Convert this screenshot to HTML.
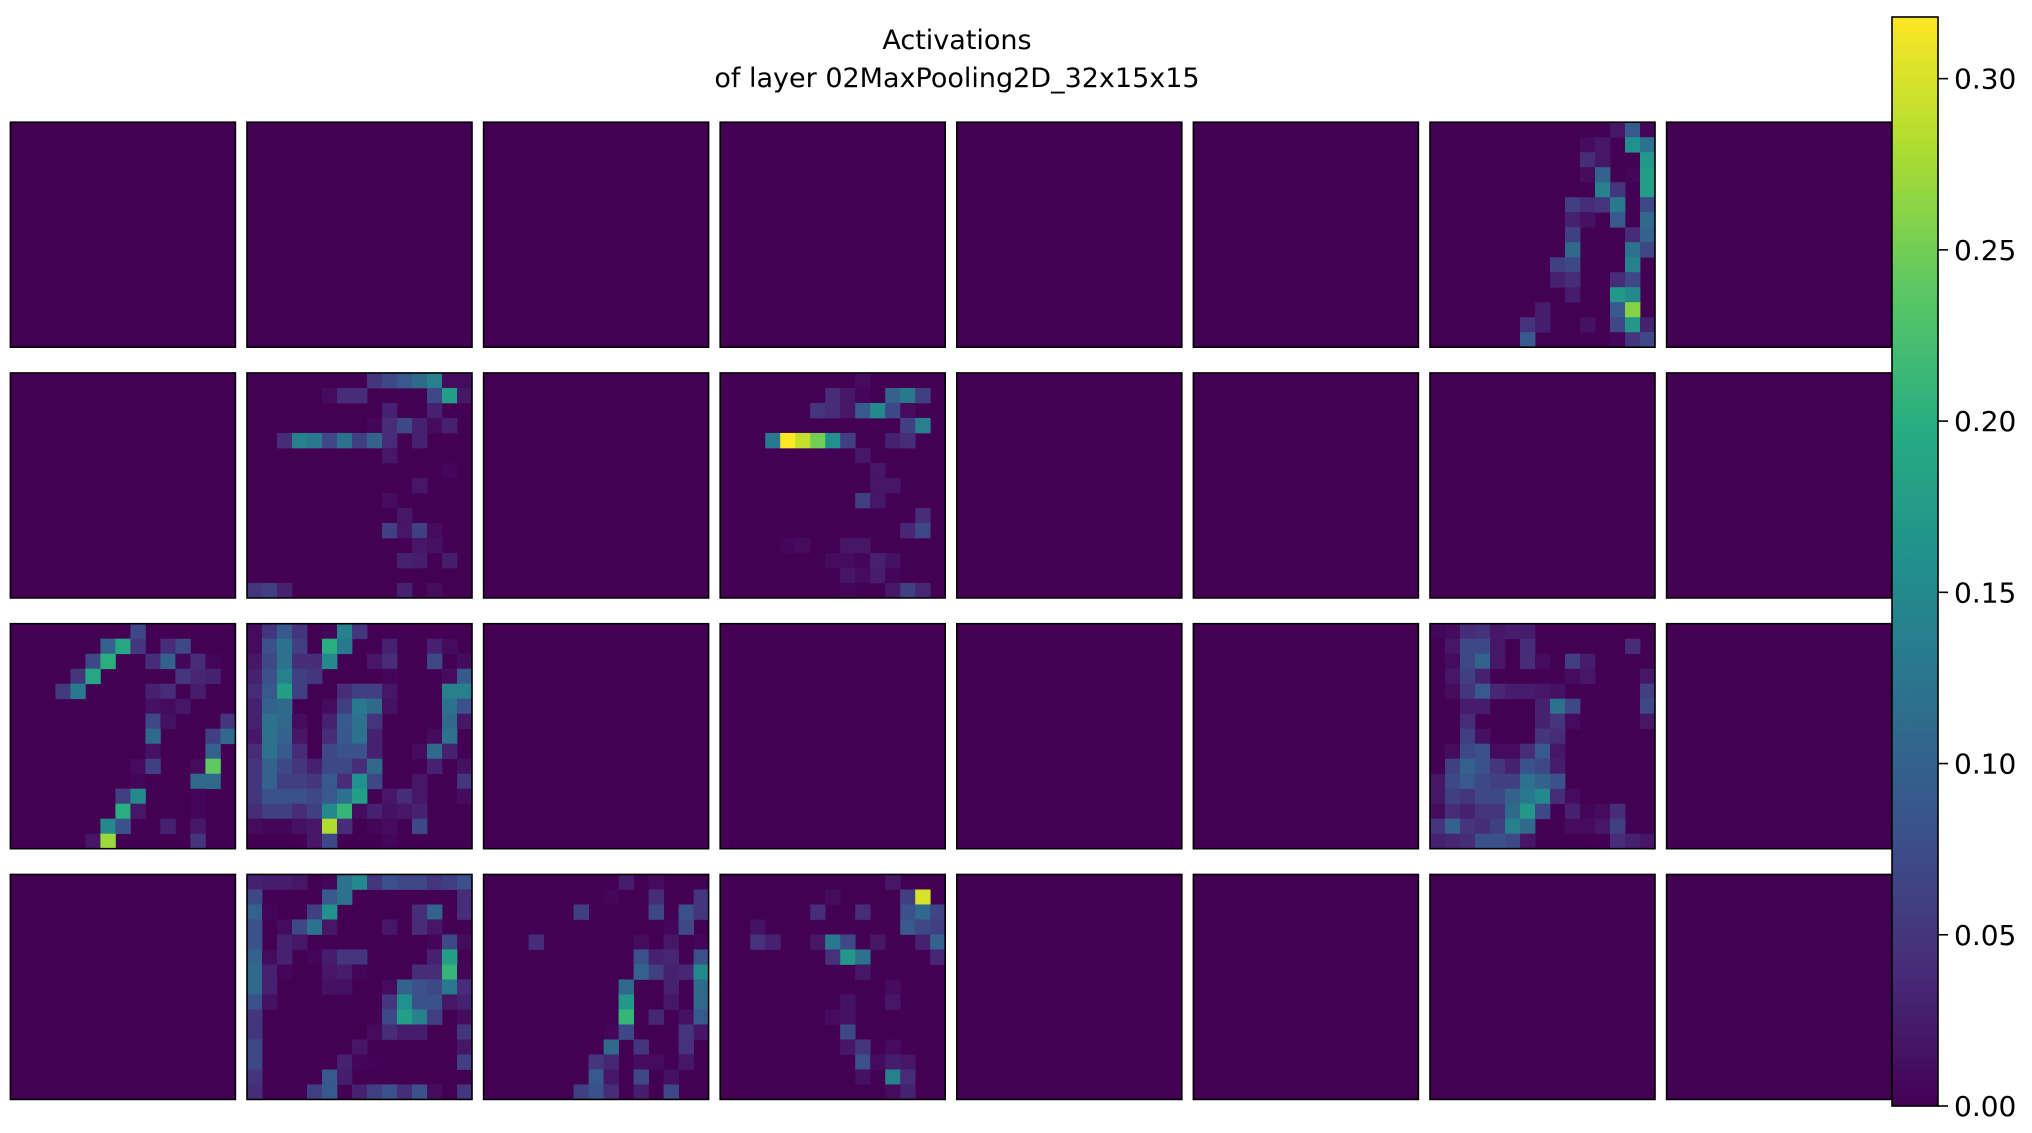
<!DOCTYPE html>
<html><head><meta charset="utf-8"><style>
html,body{margin:0;padding:0;background:#fff;}
svg{display:block;font-family:"DejaVu Sans","Liberation Sans",sans-serif;}
</style></head><body>
<svg id="fig" width="2032" height="1133" viewBox="0 0 2032 1133" xmlns="http://www.w3.org/2000/svg">
<text x="957" y="49" font-size="27" text-anchor="middle" fill="#000">Activations</text>
<text x="957" y="87" font-size="27" text-anchor="middle" fill="#000">of layer 02MaxPooling2D_32x15x15</text>
<g id="panels"></g>
<g id="cbar"></g>
</svg>
<script>
// color scale
const vmin = 0, vmax = 0.318;
const cbarTicks = [0, 0.05, 0.10, 0.15, 0.20, 0.25, 0.30];
const cbarTickLabels = ["0.00","0.05","0.10","0.15","0.20","0.25","0.30"];
// sparse panels: [row, col, value]
const act_r0c6 = [[0,12,0.02],[0,13,0.09],[0,14,0.005],[1,10,0.01],[1,11,0.02],[1,13,0.16],[1,14,0.12],[2,10,0.04],[2,11,0.02],[2,14,0.17],[3,10,0.01],[3,11,0.1],[3,13,0.005],[3,14,0.18],[4,11,0.14],[4,12,0.05],[4,14,0.18],[5,9,0.06],[5,10,0.04],[5,11,0.05],[5,12,0.13],[5,14,0.07],[6,9,0.03],[6,10,0.015],[6,12,0.09],[6,14,0.11],[7,9,0.06],[7,13,0.04],[7,14,0.1],[8,9,0.11],[8,13,0.12],[8,14,0.07],[9,8,0.06],[9,9,0.07],[9,13,0.14],[10,8,0.03],[10,9,0.04],[10,12,0.04],[10,13,0.07],[11,9,0.025],[11,12,0.17],[11,13,0.15],[12,7,0.025],[12,12,0.09],[12,13,0.26],[13,6,0.045],[13,7,0.025],[13,10,0.015],[13,12,0.07],[13,13,0.17],[13,14,0.03],[14,6,0.09],[14,12,0.005],[14,13,0.05],[14,14,0.07]];
const act_r1c1 = [[0,8,0.05],[0,9,0.07],[0,10,0.09],[0,11,0.11],[0,12,0.14],[0,13,0.01],[0,14,0.01],[1,5,0.01],[1,6,0.04],[1,7,0.04],[1,12,0.07],[1,13,0.18],[1,14,0.02],[2,9,0.03],[2,12,0.03],[3,8,0.005],[3,9,0.04],[3,10,0.07],[3,11,0.03],[3,12,0.01],[3,13,0.03],[4,2,0.04],[4,3,0.14],[4,4,0.13],[4,5,0.07],[4,6,0.12],[4,7,0.06],[4,8,0.1],[4,9,0.04],[4,11,0.03],[5,9,0.02],[6,13,0.005],[7,11,0.02],[8,9,0.01],[9,10,0.02],[10,9,0.06],[10,10,0.02],[10,11,0.06],[10,12,0.01],[11,11,0.02],[11,12,0.015],[12,10,0.03],[12,11,0.025],[12,13,0.025],[14,0,0.05],[14,1,0.06],[14,2,0.03],[14,10,0.03],[14,12,0.01]];
const act_r1c3 = [[0,9,0.01],[1,7,0.04],[1,8,0.02],[1,9,0.005],[1,11,0.1],[1,12,0.13],[1,13,0.06],[2,6,0.05],[2,7,0.04],[2,8,0.02],[2,9,0.09],[2,10,0.15],[2,11,0.07],[2,12,0.01],[3,12,0.06],[3,13,0.14],[4,3,0.13],[4,4,0.318],[4,5,0.29],[4,6,0.25],[4,7,0.16],[4,8,0.06],[4,11,0.03],[4,12,0.04],[5,9,0.02],[6,10,0.02],[7,10,0.02],[7,11,0.02],[8,9,0.06],[8,10,0.02],[9,13,0.04],[10,12,0.035],[10,13,0.07],[11,4,0.005],[11,5,0.01],[11,8,0.02],[11,9,0.02],[12,7,0.01],[12,8,0.01],[12,9,0.005],[12,10,0.03],[12,11,0.015],[13,8,0.02],[13,9,0.01],[13,10,0.025],[13,11,0.005],[14,8,0.005],[14,11,0.02],[14,12,0.06],[14,13,0.035]];
const act_r2c0 = [[0,8,0.07],[1,6,0.1],[1,7,0.19],[1,8,0.05],[1,10,0.04],[1,11,0.07],[2,5,0.07],[2,6,0.2],[2,9,0.04],[2,10,0.1],[2,11,0.005],[2,12,0.04],[2,13,0.005],[3,4,0.05],[3,5,0.19],[3,11,0.05],[3,12,0.035],[3,13,0.03],[4,3,0.055],[4,4,0.13],[4,9,0.03],[4,10,0.04],[4,12,0.025],[5,9,0.015],[5,10,0.01],[5,11,0.02],[6,9,0.07],[6,10,0.015],[6,14,0.05],[7,9,0.11],[7,13,0.06],[7,14,0.11],[8,9,0.015],[8,13,0.1],[9,8,0.01],[9,9,0.06],[9,12,0.01],[9,13,0.24],[10,8,0.005],[10,12,0.11],[10,13,0.11],[11,7,0.06],[11,8,0.15],[11,12,0.005],[12,7,0.2],[12,8,0.02],[12,12,0.005],[13,6,0.15],[13,7,0.08],[13,10,0.03],[13,12,0.02],[14,5,0.02],[14,6,0.27],[14,12,0.05]];
const act_r3c2 = [[0,9,0.025],[0,11,0.01],[1,8,0.005],[1,11,0.04],[1,14,0.05],[2,6,0.06],[2,11,0.07],[2,13,0.08],[2,14,0.05],[3,12,0.005],[3,13,0.07],[4,3,0.04],[4,10,0.01],[4,12,0.02],[4,14,0.005],[5,10,0.08],[5,11,0.03],[5,12,0.035],[5,14,0.08],[6,10,0.1],[6,11,0.06],[6,12,0.03],[6,13,0.035],[6,14,0.15],[7,9,0.11],[7,12,0.03],[7,14,0.11],[8,9,0.17],[8,12,0.02],[8,14,0.11],[9,9,0.21],[9,11,0.035],[9,13,0.015],[9,14,0.09],[10,8,0.005],[10,9,0.07],[10,13,0.05],[10,14,0.02],[11,8,0.11],[11,10,0.05],[11,13,0.045],[12,7,0.05],[12,8,0.035],[12,10,0.01],[12,11,0.01],[12,13,0.02],[13,7,0.09],[13,8,0.02],[13,10,0.07],[13,12,0.015],[14,6,0.06],[14,7,0.08],[14,8,0.04],[14,10,0.025],[14,12,0.07]];
const act_r3c3 = [[0,11,0.02],[1,7,0.01],[1,12,0.06],[1,13,0.3],[2,6,0.04],[2,9,0.04],[2,12,0.08],[2,13,0.11],[2,14,0.065],[3,2,0.015],[3,12,0.09],[3,13,0.07],[3,14,0.06],[4,2,0.045],[4,3,0.03],[4,6,0.02],[4,7,0.13],[4,8,0.07],[4,10,0.02],[4,13,0.03],[4,14,0.1],[5,7,0.045],[5,8,0.17],[5,9,0.12],[5,14,0.035],[6,9,0.02],[7,11,0.01],[8,8,0.015],[8,11,0.02],[9,7,0.01],[9,8,0.015],[10,8,0.07],[11,8,0.02],[11,9,0.05],[11,11,0.01],[12,9,0.08],[12,10,0.01],[12,11,0.025],[12,12,0.02],[13,9,0.015],[13,11,0.14],[13,12,0.04],[14,11,0.01],[14,12,0.03]];
// dense panels: 15 rows x 15 cols
const act_r2c1 = [
[0.01,0.05,0.09,0.05,0,0.005,0.14,0.05,0,0,0,0,0,0,0],
[0.01,0.08,0.12,0.06,0,0.2,0.13,0,0,0.03,0,0,0.03,0.01,0],
[0.02,0.07,0.12,0.04,0.04,0.15,0,0,0.02,0.04,0,0,0.07,0,0.01],
[0.03,0.08,0.14,0.06,0.05,0,0,0,0,0.005,0,0,0,0.01,0.09],
[0.04,0.09,0.18,0.06,0,0,0.04,0.06,0.06,0.02,0,0,0,0.14,0.14],
[0.03,0.1,0.11,0,0,0.01,0.06,0.13,0.11,0.015,0,0,0,0.12,0.08],
[0.03,0.12,0.11,0.01,0,0.03,0.09,0.12,0.05,0,0,0,0,0.11,0.02],
[0.02,0.12,0.1,0.02,0,0.04,0.09,0.12,0.03,0,0,0,0.01,0.12,0],
[0.04,0.12,0.09,0.04,0,0.07,0.08,0.08,0.03,0,0,0.01,0.11,0.03,0],
[0.05,0.1,0.07,0.05,0.03,0.07,0.07,0.04,0.11,0,0,0,0.03,0,0.015],
[0.05,0.1,0.06,0.06,0.05,0.09,0.04,0.16,0.07,0,0,0.02,0,0,0.05],
[0.05,0.08,0.08,0.08,0.07,0.09,0.12,0.18,0,0.02,0.04,0.02,0,0,0.01],
[0.04,0.06,0.06,0.04,0.06,0.15,0.21,0.01,0.03,0.015,0.02,0.03,0,0,0],
[0.01,0.005,0.005,0.015,0.02,0.28,0.04,0,0.005,0.01,0,0.07,0,0,0],
[0,0,0,0,0.02,0.07,0,0,0,0.005,0,0,0,0,0]];
const act_r2c6 = [
[0.005,0.01,0.04,0.045,0.02,0.025,0.025,0,0,0,0,0,0,0,0],
[0,0.02,0.07,0.07,0.02,0,0.04,0,0,0,0,0,0,0.04,0],
[0,0.01,0.07,0.1,0.02,0,0.04,0.01,0,0.06,0.025,0,0,0,0],
[0,0.02,0.06,0.03,0,0,0,0,0,0.01,0.02,0,0,0,0.02],
[0,0.01,0.05,0.09,0.035,0.025,0.025,0.02,0.015,0,0,0,0,0,0.06],
[0,0,0.025,0.025,0,0,0,0.03,0.12,0.07,0,0,0,0,0.07],
[0,0,0.04,0,0,0,0,0.03,0.05,0.01,0,0,0,0,0.02],
[0,0,0.06,0.015,0,0,0,0.05,0.04,0,0,0,0,0,0],
[0,0.01,0.07,0.08,0.01,0.01,0.04,0.09,0.02,0,0,0,0,0,0],
[0,0.06,0.1,0.08,0.05,0.03,0.08,0.07,0.025,0,0,0,0,0,0],
[0.02,0.07,0.09,0.07,0.06,0.06,0.12,0.1,0.08,0,0,0,0,0,0],
[0.02,0.06,0.05,0.07,0.07,0.1,0.13,0.15,0.04,0.01,0,0,0,0,0],
[0.01,0.04,0.03,0.05,0.05,0.11,0.17,0.07,0,0.03,0.005,0.01,0.04,0,0],
[0.05,0.1,0.05,0.04,0.06,0.14,0.11,0,0,0.01,0.01,0.02,0.06,0,0],
[0.03,0.035,0.04,0.08,0.08,0.07,0.02,0,0,0,0,0,0.04,0.03,0.02]];
const act_r3c1 = [
[0.03,0.025,0.025,0.02,0,0.005,0.12,0.15,0.05,0.08,0.07,0.07,0.05,0.06,0.08],
[0.07,0,0,0,0,0.09,0.12,0,0,0,0,0,0,0,0.04],
[0.1,0.005,0,0,0.06,0.16,0,0,0,0,0,0.04,0.1,0,0.04],
[0.08,0,0.01,0.07,0.12,0.02,0,0,0,0.02,0,0.04,0.02,0,0],
[0.08,0,0.03,0.02,0,0,0,0,0,0,0,0,0.005,0.07,0.01],
[0.1,0.01,0.03,0,0.005,0.025,0.05,0.05,0,0,0,0,0.03,0.18,0],
[0.11,0.03,0.005,0,0,0.02,0.025,0.005,0,0,0,0.04,0.04,0.21,0.005],
[0.11,0.03,0,0,0,0.015,0.015,0,0,0.01,0.1,0.08,0.07,0.13,0.04],
[0.08,0.015,0,0,0,0,0,0,0,0.05,0.16,0.08,0.08,0.02,0.03],
[0.05,0,0,0,0,0,0,0,0,0.07,0.18,0.14,0.06,0,0.01],
[0.05,0,0,0,0,0,0,0,0.01,0.04,0.025,0.025,0,0,0.05],
[0.07,0,0,0,0,0,0,0.02,0,0,0,0,0,0,0.02],
[0.07,0,0,0,0,0,0.03,0.005,0.002,0,0,0,0,0,0.06],
[0.05,0,0,0,0,0.09,0.025,0,0,0,0,0,0,0,0],
[0.04,0,0,0,0.06,0.09,0,0.03,0.06,0.08,0.04,0.08,0.01,0,0.05]];

const NS = "http://www.w3.org/2000/svg";
const VIR = ["#440154","#472c7a","#3b518b","#2c718e","#21908d","#27ad81","#5cc863","#aadc32","#fde725"];
function hex(h){return [parseInt(h.slice(1,3),16),parseInt(h.slice(3,5),16),parseInt(h.slice(5,7),16)];}
function viridis(t){t=Math.max(0,Math.min(1,t));const p=t*(VIR.length-1);const i=Math.min(VIR.length-2,Math.floor(p));const f=p-i;const a=hex(VIR[i]),b=hex(VIR[i+1]);return "rgb("+a.map((v,k)=>Math.round(v+(b[k]-v)*f)).join(",")+")";}
function colorOf(v){return viridis((v-vmin)/(vmax-vmin));}
function toGrid(src){
  const g=[];for(let r=0;r<15;r++){g.push(new Array(15).fill(0));}
  if(src && src.length && Array.isArray(src[0]) && src[0].length===15 && src.length===15){return src;}
  if(src){src.forEach(t=>{g[t[0]][t[1]]=t[2];});}
  return g;
}
const panelData = {"0-6":act_r0c6,"1-1":act_r1c1,"1-3":act_r1c3,"2-0":act_r2c0,"2-1":act_r2c1,"2-6":act_r2c6,"3-1":act_r3c1,"3-2":act_r3c2,"3-3":act_r3c3};
const X0=10.4, DX=236.6, Y0=122.2, DY=250.75, PW=225, CELL=PW/15;
const panels=document.getElementById("panels");
for(let r=0;r<4;r++){for(let c=0;c<8;c++){
  const g=document.createElementNS(NS,"g");
  
  
  const px=X0+c*DX, py=Y0+r*DY;
  const grid=toGrid(panelData[r+"-"+c]);
  const bg=document.createElementNS(NS,"rect");
  bg.setAttribute("x",px);bg.setAttribute("y",py);bg.setAttribute("width",PW);bg.setAttribute("height",PW);bg.setAttribute("fill",colorOf(0));
  
  
  g.appendChild(bg);
  for(let i=0;i<15;i++){for(let j=0;j<15;j++){
    const v=grid[i][j]; if(!(v>0)) continue;
    const rc=document.createElementNS(NS,"rect");
    rc.setAttribute("x",(px+j*CELL).toFixed(2));rc.setAttribute("y",(py+i*CELL).toFixed(2));
    rc.setAttribute("width",(CELL+0.4).toFixed(2));rc.setAttribute("height",(CELL+0.4).toFixed(2));
    rc.setAttribute("fill",colorOf(v));
    
    
    g.appendChild(rc);
  }}
  const bd=document.createElementNS(NS,"rect");
  bd.setAttribute("x",px);bd.setAttribute("y",py);bd.setAttribute("width",PW);bd.setAttribute("height",PW);
  bd.setAttribute("fill","none");bd.setAttribute("stroke","#000");bd.setAttribute("stroke-width","1.6");
  
  
  g.appendChild(bd);
  panels.appendChild(g);
}}
// colorbar
const CB={x:1892,y:17,w:46,h:1089};
const cb=document.getElementById("cbar");
const defs=document.createElementNS(NS,"defs");
const lg=document.createElementNS(NS,"linearGradient");
lg.setAttribute("id","vgrad");lg.setAttribute("x1","0");lg.setAttribute("y1","1");lg.setAttribute("x2","0");lg.setAttribute("y2","0");
for(let k=0;k<=32;k++){const s=document.createElementNS(NS,"stop");s.setAttribute("offset",k/32);s.setAttribute("stop-color",viridis(k/32));lg.appendChild(s);}
defs.appendChild(lg);cb.appendChild(defs);
const bar=document.createElementNS(NS,"rect");
bar.setAttribute("x",CB.x);bar.setAttribute("y",CB.y);bar.setAttribute("width",CB.w);bar.setAttribute("height",CB.h);
bar.setAttribute("fill","url(#vgrad)");bar.setAttribute("stroke","#000");bar.setAttribute("stroke-width","1.6");


cb.appendChild(bar);
function cbY(v){return CB.y+CB.h-(v-vmin)/(vmax-vmin)*CB.h;}
cbarTicks.forEach((t,i)=>{
  const y=cbY(t);
  const ln=document.createElementNS(NS,"line");
  ln.setAttribute("x1",CB.x+CB.w);ln.setAttribute("x2",CB.x+CB.w+10);ln.setAttribute("y1",y);ln.setAttribute("y2",y);
  ln.setAttribute("stroke","#000");ln.setAttribute("stroke-width","1.6");
  
  
  cb.appendChild(ln);
  const tx=document.createElementNS(NS,"text");
  tx.setAttribute("x",CB.x+CB.w+16);tx.setAttribute("y",y+10);tx.setAttribute("font-size","28");tx.setAttribute("fill","#000");
  tx.textContent=cbarTickLabels[i];
  
  
  cb.appendChild(tx);
});
</script>
</body></html>
